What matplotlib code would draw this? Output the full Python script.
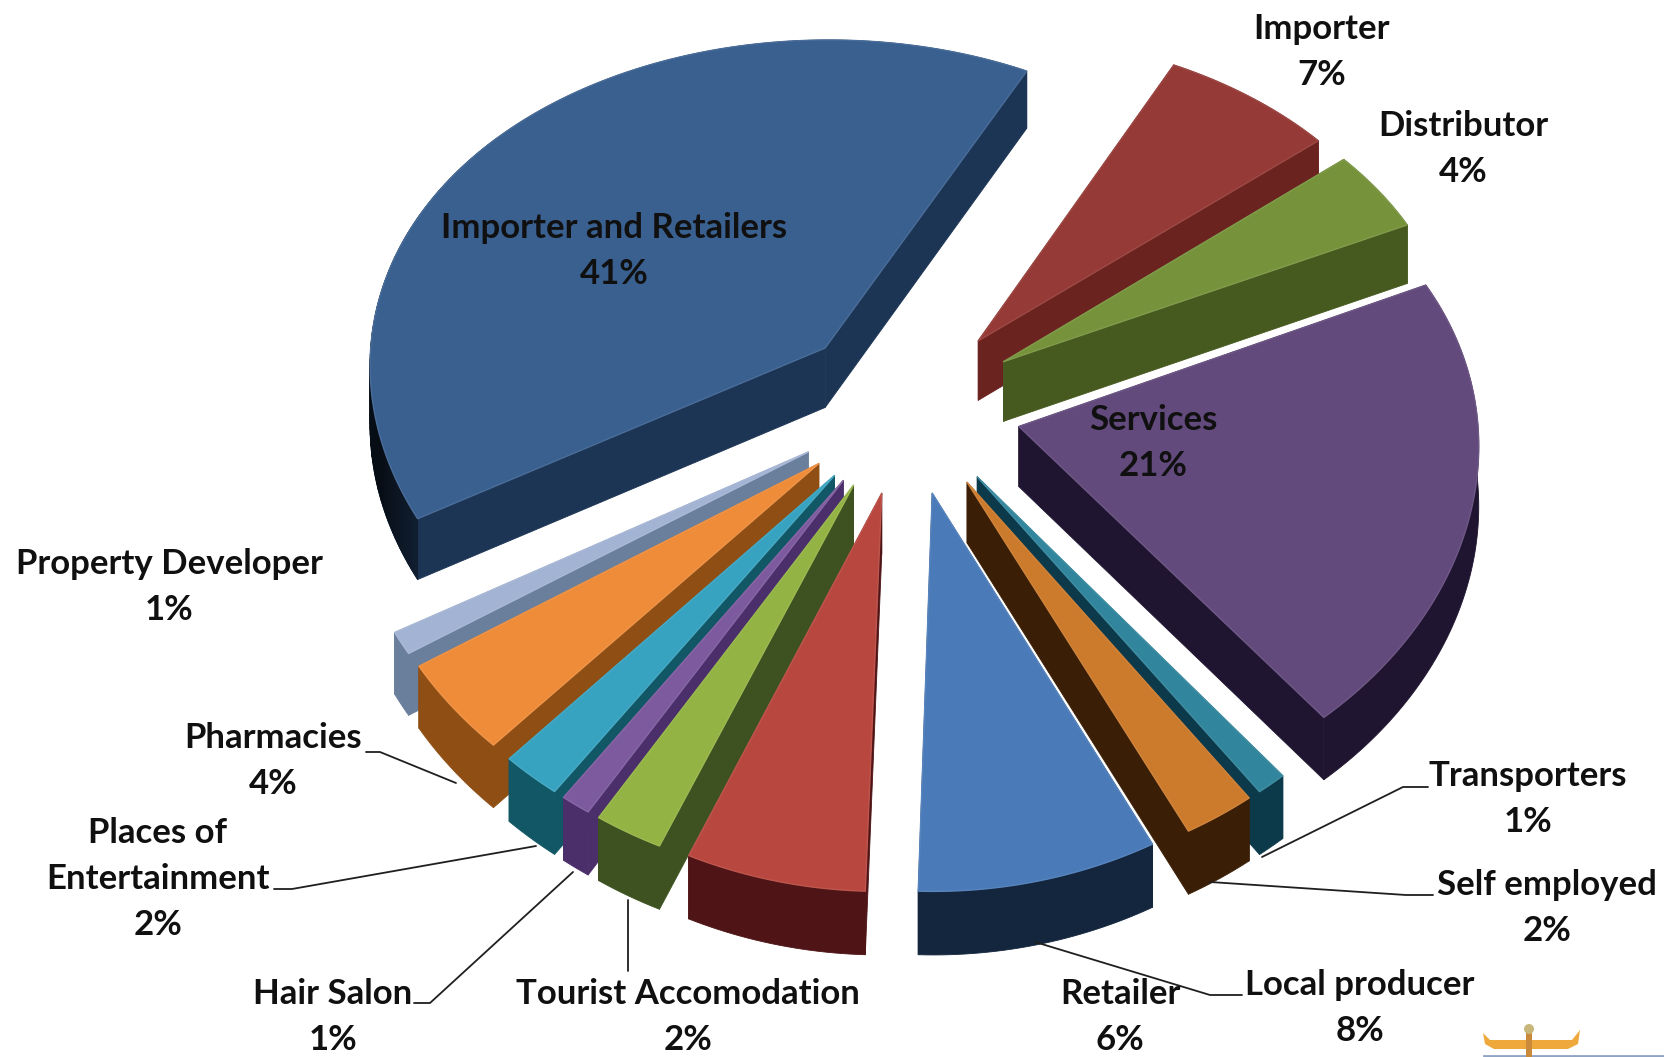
import numpy as np
import matplotlib
matplotlib.use('Agg')
import matplotlib.pyplot as plt
from matplotlib.patches import Polygon, Circle

# shares clockwise from the Importer slice (labels show them rounded)
categories = ['Importer', 'Distributor', 'Services', 'Transporters', 'Self employed',
              'Local producer', 'Retailer', 'Tourist Accomodation', 'Hair Salon',
              'Places of\nEntertainment', 'Pharmacies', 'Property Developer', 'Importer and Retailers']
values = [6.6, 4, 21, 1, 2.4, 8, 6, 2.3, 1, 2, 4.1, 1, 40.6]
top_colors = ['#953a36', '#76933c', '#624a7c', '#31859c', '#cc7a2c', '#4a7ab8', '#b8473f',
              '#93b344', '#7d5a9e', '#38a3c0', '#ee8c3a', '#a3b3d3', '#3a6090']
side_colors = ['#6b2320', '#46591f', '#1f1530', '#0d3a4a', '#3a1e06', '#14263d', '#4e1416',
               '#3d5220', '#4a2f6a', '#125766', '#8f4f14', '#6a7f9c', '#1d3554']

# label centres in picture pixels, with the percent under the name
label_x = [1322, 1463, 1153, 1528, 1547, 1360, 1120, 688, 333, 158, 273, 169, 614]
label_y = [52, 149, 443, 799, 908, 1008, 1017, 1017, 1017, 879, 761, 587, 251]

# leader lines: label end, elbow, slice end
leaders = [[(1428, 787), (1403, 787), (1262, 857)],
           [(1433, 895), (1406, 895), (1210, 882)],
           [(1242, 995), (1210, 995), (1035, 942)],
           [(366, 752), (380, 752), (456, 783)],
           [(274, 889), (292, 889), (536, 846)],
           [(414, 1003), (430, 1003), (573, 872)],
           [(628, 971), (628, 900)]]

CX, CY = 907, 407      # pie centre
RADIUS = 458
TILT = 0.755
PERSP_X = 0.045
PERSP_Y = 0.09
DEPTH = 60
EXPLODE = 0.25
START = 27.0           # clock angle of the first slice edge

fig = plt.figure(figsize=(16.64, 10.57), dpi=100)
ax = fig.add_axes([0, 0, 1, 1])
ax.set_xlim(0, 1664)
ax.set_ylim(1057, 0)
ax.axis('off')


def project(x, y, down=0.0):
    sx = 1 / (1 + PERSP_X * y)
    sy = 1 / (1 + PERSP_Y * y)
    return np.column_stack([CX + RADIUS * x * sx, CY - RADIUS * TILT * y * sy + DEPTH * down * sx])


def add_poly(pts, color, z, edge=None, lw=0.0):
    ax.add_patch(Polygon(pts, closed=True, facecolor=color, edgecolor=edge or color,
                         linewidth=lw or 0.6, zorder=z, joinstyle='round'))


def lighten(color, amount):
    rgb = np.array(matplotlib.colors.to_rgb(color))
    return tuple(rgb + (1 - rgb) * amount)


def darken(color, amount):
    rgb = np.array(matplotlib.colors.to_rgb(color))
    return tuple(rgb * (1 - amount))


angles = START + np.cumsum([0] + values) * 3.6
order = []
for i in range(len(values)):
    mid = np.radians((angles[i] + angles[i + 1]) / 2)
    order.append((np.cos(mid), i))
order.sort(reverse=True)

z = 2
for _, i in order:
    a0, a1 = np.radians(angles[i]), np.radians(angles[i + 1])
    mid = (a0 + a1) / 2
    ox, oy = EXPLODE * np.sin(mid), EXPLODE * np.cos(mid)
    t = np.linspace(a0, a1, max(int(values[i] * 4), 8))
    arc_x, arc_y = ox + np.sin(t), oy + np.cos(t)

    top_arc = project(arc_x, arc_y)
    low_arc = project(arc_x, arc_y, 1)
    apex = project(np.array([ox]), np.array([oy]))
    apex_low = project(np.array([ox]), np.array([oy]), 1)

    c = side_colors[i]
    wall_a = np.vstack([apex, top_arc[:1], low_arc[:1], apex_low])
    wall_b = np.vstack([apex, top_arc[-1:], low_arc[-1:], apex_low])
    wall_c = np.vstack([top_arc, low_arc[::-1]])
    walls = [(wall_a, c), (wall_b, c), (wall_c, c)]
    walls.sort(key=lambda w: w[0][:, 1].mean())
    for pts, col in walls:
        add_poly(pts, col, z)
        z += 1

    # the big slice goes nearly black on its far left curve
    if values[i] == max(values):
        for k in range(len(t) - 1):
            if np.sin(t[k]) < -0.75:
                amt = min(0.75, (-np.sin(t[k]) - 0.75) * 3.5)
                quad = np.vstack([top_arc[k:k + 2], low_arc[k:k + 2][::-1]])
                add_poly(quad, darken(c, amt), z)
                z += 1

    add_poly(np.vstack([apex, top_arc]), top_colors[i], z, edge=lighten(top_colors[i], 0.08), lw=1.0)
    z += 1

for line in leaders:
    xs, ys = zip(*line)
    ax.plot(xs, ys, color='#1f1f1f', lw=1.3, zorder=200, solid_capstyle='round')

for name, val, x, y in zip(categories, values, label_x, label_y):
    lines = name.split('\n')
    step = 46
    for k, part in enumerate(lines + [f'{val:.0f}%']):
        ax.text(x, y - step * (len(lines) - 1) / 2 - 23 + step * k, part, ha='center', va='center',
                fontsize=25, fontweight='bold', family='Lato', color='#101010', zorder=300)

# small logo bottom right
ax.add_patch(Polygon([(1483, 1033), (1490, 1040), (1572, 1040), (1580, 1030), (1578, 1044), (1568, 1049),
                      (1494, 1049), (1485, 1044)], closed=True, facecolor='#eea83c', edgecolor='none', zorder=300))
ax.add_patch(Circle((1529, 1029), 5, facecolor='#c9b77a', edgecolor='none', zorder=301))
ax.add_patch(Polygon([(1526, 1030), (1532, 1030), (1532, 1057), (1526, 1057)], closed=True,
                     facecolor='#c98a3c', edgecolor='none', zorder=300))
ax.plot([1484, 1664], [1056, 1056], color='#8fa3c4', lw=2, zorder=299)

fig.savefig('out.png', dpi=100, facecolor='white')
